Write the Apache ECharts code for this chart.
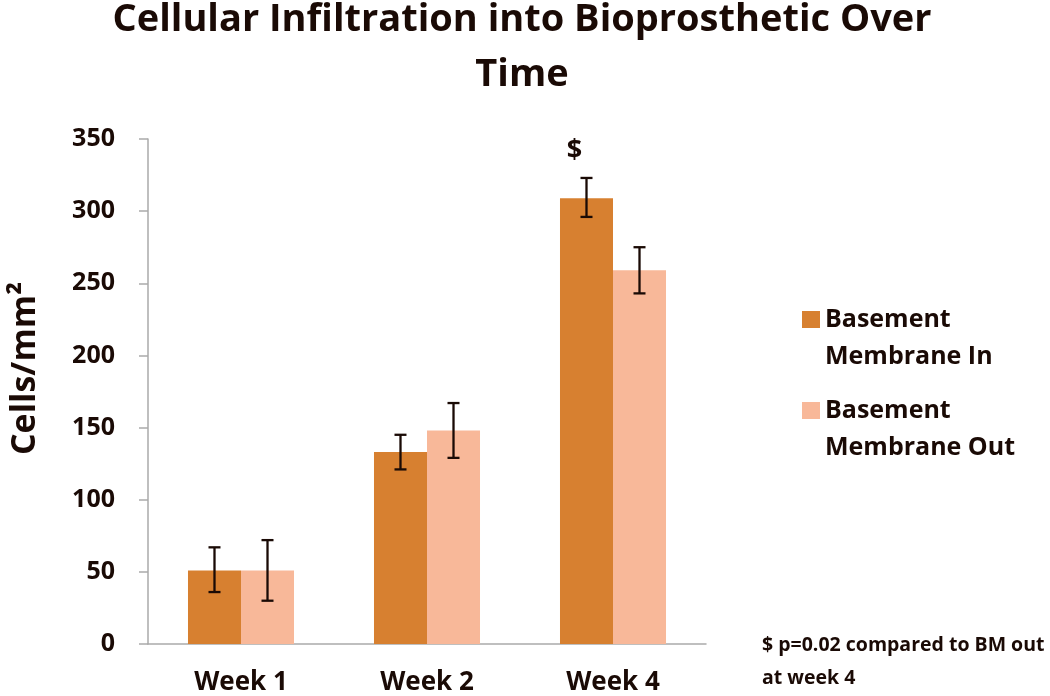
<!DOCTYPE html>
<html><head><meta charset="utf-8">
<script src="https://cdn.jsdelivr.net/npm/echarts@6/dist/echarts.min.js"></script>
<style>html,body{margin:0;padding:0;background:#fff}#c{width:1050px;height:696px}</style>
</head><body><div id="c"></div>
<script>
const categories = ['Week 1', 'Week 2', 'Week 4'];
const seriesNames = ['Basement\nMembrane In', 'Basement\nMembrane Out'];
const valuesIn = [51, 133, 309];
const valuesOut = [51, 148, 259];
const errLowIn = [36, 121, 296];
const errHighIn = [67, 145, 323];
const errLowOut = [30, 129, 243];
const errHighOut = [72, 167, 275];
const annotIn = ['', '', '$'];
const annotOut = ['', '', ''];
const yTicks = [0, 50, 100, 150, 200, 250, 300, 350];

const colors = ['#D78030', '#F8B899'];
const FONT = 'Open Sans';
const catGap = 0.43;

function errSeries(idx, lows, highs, annots) {
  return {
    type: 'custom',
    name: 'err' + idx,
    z: 10,
    data: categories.map((c, i) => [i, lows[i], highs[i], annots[i]]),
    renderItem: function (params, api) {
      const ci = api.value(0);
      const lo = api.coord([ci, api.value(1)]);
      const hi = api.coord([ci, api.value(2)]);
      const band = api.size([1, 0])[0];
      const bw = band * (1 - catGap) / 2;
      const x = lo[0] + (idx === 0 ? -bw / 2 : bw / 2);
      const cap = 6;
      const st = { stroke: '#1a0a05', lineWidth: 2.3 };
      const children = [
        { type: 'line', shape: { x1: x, y1: hi[1], x2: x, y2: lo[1] }, style: st },
        { type: 'line', shape: { x1: x - cap, y1: hi[1], x2: x + cap, y2: hi[1] }, style: st },
        { type: 'line', shape: { x1: x - cap, y1: lo[1], x2: x + cap, y2: lo[1] }, style: st }
      ];
      const a = api.value(3);
      if (a) {
        children.push({ type: 'text', style: { text: a, x: x - 12, y: hi[1] - 28, align: 'center', verticalAlign: 'middle', font: 'bold 27px "' + FONT + '"', fill: '#1a0a05' } });
      }
      return { type: 'group', children: children };
    }
  };
}

const chart = echarts.init(document.getElementById('c'));
chart.setOption({
  animation: false,
  textStyle: { fontFamily: FONT },
  title: {
    text: 'Cellular Infiltration into Bioprosthetic Over\nTime',
    left: 522, top: -7, textAlign: 'center', padding: 0,
    textStyle: { fontSize: 38, fontWeight: 'bold', color: '#1a0a05', lineHeight: 55, fontFamily: FONT }
  },
  legend: {
    orient: 'vertical', left: 802, top: 264, padding: 0,
    itemWidth: 18, itemHeight: 17, itemGap: -20,
    data: seriesNames,
    formatter: name => ' \n' + name,
    textStyle: { fontSize: 25, fontWeight: 'bold', color: '#1a0a05', lineHeight: 37 },
    icon: 'rect'
  },
  grid: { left: 146, top: 139, width: 560, height: 506 },
  xAxis: {
    type: 'category', data: categories,
    axisLine: { lineStyle: { color: '#aaaaaa', width: 1.5 } },
    axisTick: { show: false },
    axisLabel: { fontSize: 26, fontWeight: 'bold', color: '#1a0a05', margin: 26 }
  },
  yAxis: {
    type: 'value', min: 0, max: 350, interval: 50,
    name: 'Cells/mm²', nameLocation: 'middle', nameGap: 106, nameRotate: 90,
    nameTextStyle: { fontSize: 34, fontWeight: 'bold', color: '#1a0a05', padding: [0, 0, 0, 46] },
    splitLine: { show: false },
    axisLine: { show: true, lineStyle: { color: '#aaaaaa', width: 1.5 } },
    axisTick: { show: true, length: 9, lineStyle: { color: '#aaaaaa', width: 1.5 } },
    axisLabel: { fontSize: 25, fontWeight: 'bold', color: '#1a0a05', margin: 33,
      formatter: v => yTicks.includes(v) ? String(v) : '' }
  },
  series: [
    { type: 'bar', name: seriesNames[0], data: valuesIn, itemStyle: { color: colors[0] }, barGap: '0%', barCategoryGap: (catGap * 100) + '%' },
    { type: 'bar', name: seriesNames[1], data: valuesOut, itemStyle: { color: colors[1] }, barGap: '0%', barCategoryGap: (catGap * 100) + '%' },
    errSeries(0, errLowIn, errHighIn, annotIn),
    errSeries(1, errLowOut, errHighOut, annotOut)
  ],
  graphic: [{
    type: 'text', left: 762, top: 629,
    style: { text: '$ p=0.02 compared to BM out\nat week 4', font: 'bold 19.5px "' + FONT + '"', fill: '#1a0a05', lineHeight: 33 }
  }]
});
</script></body></html>
